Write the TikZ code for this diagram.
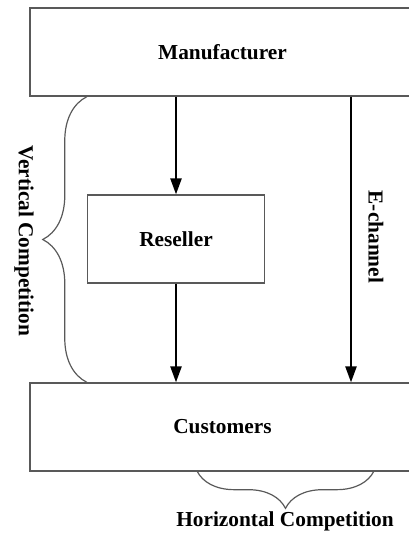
\documentclass[tikz,border=0pt]{standalone}
\usepackage{fontspec}
\setmainfont{Liberation Serif}
\usetikzlibrary{arrows.meta,decorations.pathreplacing}

\begin{document}
\begin{tikzpicture}[x=0.75pt,y=-0.75pt,font=\fontsize{16}{19}\selectfont\bfseries]
	\useasboundingbox (0,0) rectangle (409,534);
	\tikzstyle{BoxStyle}=[draw=black!65,line width=1.1pt,inner sep=0pt,minimum height=66pt]
	\node[BoxStyle,minimum width=288.75pt] (M) at (222.5,52) {Manufacturer};
	\node[BoxStyle,minimum width=132.75pt] (R) at (176,239) {Reseller};
	\node[BoxStyle,minimum width=288.75pt] (C) at (222.5,427) {Customers};
	\tikzstyle{EdgeStyle}=[line width=1.2pt,-{Triangle[length=12pt,width=8.5pt]}]
	\draw[EdgeStyle] (R.north |- M.south) -- (R.north);
	\draw[EdgeStyle] (R.south) -- (R.south |- C.north);
	\coordinate (E) at (351,0);
	\draw[EdgeStyle] (E |- M.south) -- (E |- C.north);
	\node[rotate=-90] (EL) at (376,237) {E-channel};
	\tikzstyle{BraceStyle}=[draw=black!65,line width=0.9pt,decorate,decoration={brace,amplitude=33pt}]
	\draw[BraceStyle] (R.west |- C.north) -- (R.west |- M.south);
	\node[rotate=-90] (VL) at (24,241) {Vertical Competition};
	\coordinate (H1) at (374,471);
	\coordinate (H2) at (197,471);
	\draw[BraceStyle,decoration={amplitude=28pt}] (H1) -- (H2);
	\node (HL) at (285,521) {Horizontal Competition};
\end{tikzpicture}
\end{document}
